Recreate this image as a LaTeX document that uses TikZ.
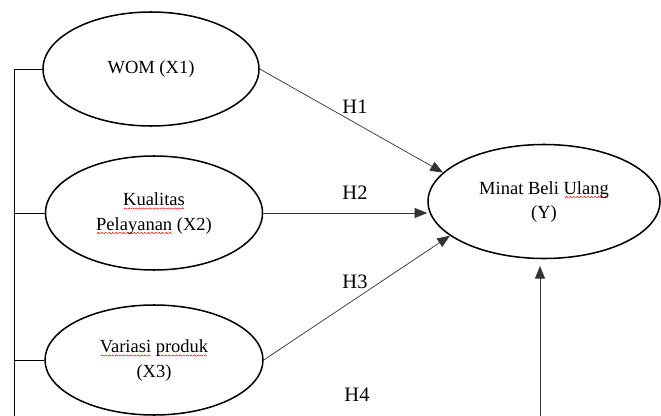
\documentclass[tikz,border=0pt]{standalone}
\usepackage{fontspec}
\setmainfont{Liberation Serif}
\usepackage{tikz}
\usetikzlibrary{shapes.geometric, arrows.meta}
% red spell check wave under a word
\newsavebox{\wavebox}
\newcommand{\spell}[1]{\setbox0\hbox{#1}\rlap{\raisebox{-3.2pt}{\hbox to \wd0{\cleaders\copy\wavebox\hfil}}}\box0\relax}
% text of a variable, raised a little in its ellipse
\newcommand{\vtext}[2]{\raisebox{#1}{\begin{tabular}{@{}c@{}}#2\end{tabular}}}
\tikzset{
	var/.style={ellipse, draw, line width=1.3pt, inner sep=0pt, font=\fontsize{15.8}{20.9}\selectfont},
	arr/.style={-{Triangle[length=3.8mm, width=3mm]}, line width=0.6pt, black!80},
	bus/.style={line width=0.8pt},
	hyp/.style={font=\fontsize{17.5}{21}\selectfont}
}

\begin{document}
\sbox{\wavebox}{\begin{pgfpicture}
	\pgfsetlinewidth{0.45pt}
	\pgfsetstrokecolor{red}
	\pgfpathmoveto{\pgfpoint{0pt}{0pt}}
	\pgfpathlineto{\pgfpoint{1.3pt}{1.1pt}}
	\pgfpathlineto{\pgfpoint{2.6pt}{0pt}}
	\pgfusepath{stroke}
\end{pgfpicture}}
\begin{tikzpicture}[x=0.3mm, y=-0.3mm]
	\useasboundingbox (0, 0) rectangle (661, 416);
	% independent variables
	\node[var, minimum width=64.8mm, minimum height=34.2mm] (wom) at (151, 69) {\vtext{1.5mm}{WOM (X1)}};
	\node[var, minimum width=65.1mm, minimum height=34.2mm] (kual) at (154, 213) {\vtext{2.4mm}{\spell{Kualitas}\\\spell{Pelayanan} (X2)}};
	\node[var, minimum width=65.4mm, minimum height=33mm] (var) at (154, 360) {\vtext{1.5mm}{\spell{Variasi} \spell{produk}\\(X3)}};
	% dependent variable
	\node[var, minimum width=69.6mm, minimum height=34.2mm] (y) at (544, 201.5) {\vtext{1.4mm}{Minat Beli \spell{Ulang}\\(Y)}};
	% left bus, cut off at the bottom
	\coordinate (busend) at (14, 416);
	\draw[bus] (wom.west) -| (busend);
	\draw[bus] (kual.west) -- (kual.west -| busend);
	\draw[bus] (var.west) -- (var.west -| busend);
	% hypotheses
	\draw[arr] (wom.east) -- (y.164);
	\draw[arr] (kual.east) -- (kual.east -| y.west);
	\draw[arr] (var.east) -- (y.200);
	\coordinate (h4end) at (540, 416);
	\draw[arr, shorten >=2mm] (h4end) -- (h4end |- y.south);
	% labels
	\node[hyp] (h1) at (355, 107) {H1};
	\node[hyp] (h2) at (355, 193) {H2};
	\node[hyp] (h3) at (355, 282) {H3};
	\node[hyp] (h4) at (357, 395) {H4};
\end{tikzpicture}
\end{document}
